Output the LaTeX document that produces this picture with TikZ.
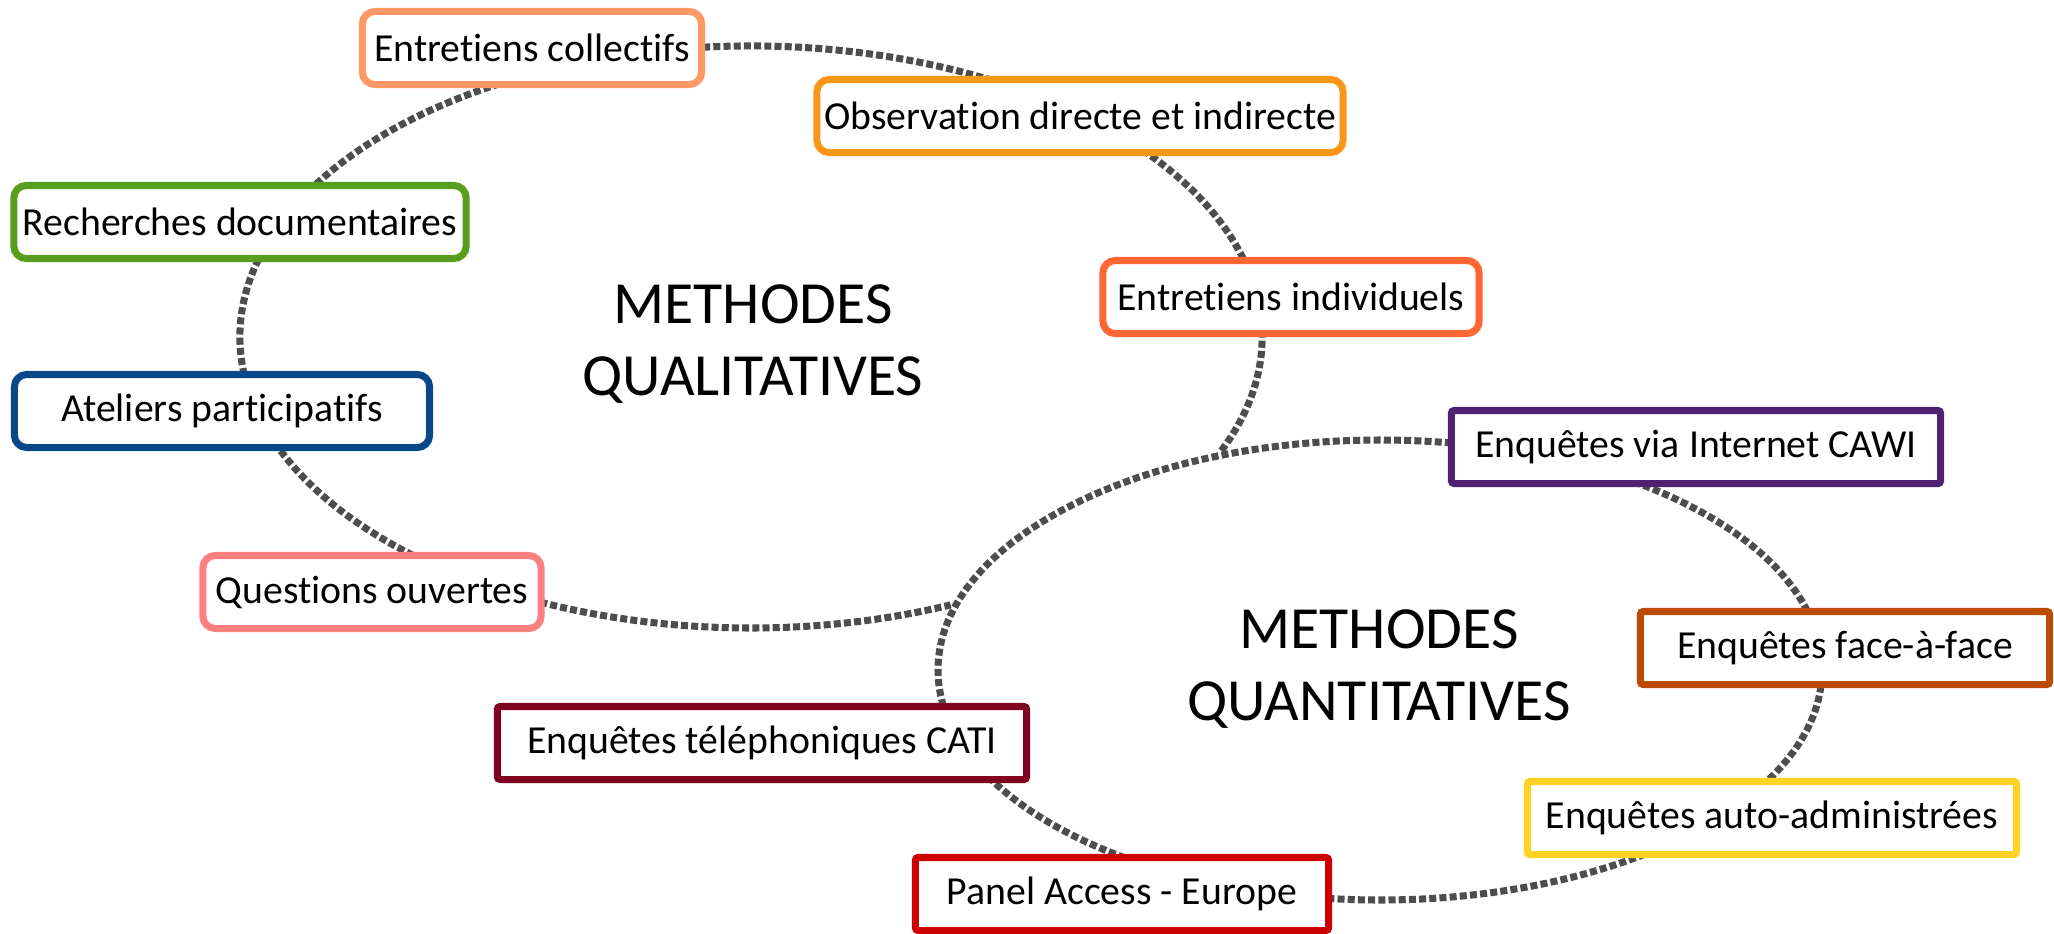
\documentclass[tikz,border=0pt]{standalone}
\usepackage{fontspec}
\setmainfont{Carlito}[Ligatures=NoCommon]
\usetikzlibrary{positioning}

\definecolor{ringgray}{RGB}{77,77,77}
\definecolor{collorange}{RGB}{255,153,102}
\definecolor{obsorange}{RGB}{250,150,25}
\definecolor{indivorange}{RGB}{255,102,51}
\definecolor{rechgreen}{RGB}{88,158,30}
\definecolor{atelblue}{RGB}{8,72,137}
\definecolor{questpink}{RGB}{255,128,128}
\definecolor{cawipurple}{RGB}{78,33,117}
\definecolor{facebrown}{RGB}{188,74,0}
\definecolor{autoyellow}{RGB}{255,210,35}
\definecolor{catired}{RGB}{128,0,32}
\definecolor{panelred}{RGB}{204,0,0}

\begin{document}
\begin{tikzpicture}[
    x=0.01cm, y=0.01cm,
    box/.style={draw=#1, fill=white, line width=2pt, minimum height=0.73cm, inner sep=2pt,
        font=\fontsize{11.3}{13.5}\selectfont},
    qualbox/.style={box=#1, rounded corners=3.5pt},
    quantbox/.style={box=#1, rounded corners=0.8pt},
    ring/.style={draw=ringgray, line width=2pt, dash pattern=on 2pt off 0.9pt},
    title/.style={align=center, font=\fontsize{17}{20.5}\selectfont},
]
    \useasboundingbox (0,0) rectangle (2054,-933);

    % Rings
    \coordinate (qualc) at (751,-337);
    \coordinate (quantc) at (1380,-670);
    \draw[ring] (qualc) ++(-23:511 and 291)
        arc[start angle=-23, end angle=293, x radius=511, y radius=291];
    \draw[ring] (quantc) ellipse[x radius=442, y radius=230];

    % Qualitative methods
    \node[qualbox=collorange, minimum width=3.39cm] (coll) at (532,-48) {Entretiens collectifs};
    \node[qualbox=obsorange, minimum width=5.26cm] (obs) at (1080,-116) {Observation directe et indirecte};
    \node[qualbox=indivorange, minimum width=3.76cm] (indiv) at (1291,-297) {Entretiens individuels};
    \node[qualbox=rechgreen, minimum width=4.52cm] (rech) at (240,-222) {Recherches documentaires};
    \node[qualbox=atelblue, minimum width=4.15cm] (atel) at (222,-411) {Ateliers participatifs};
    \node[qualbox=questpink, minimum width=3.38cm] (quest) at (372,-592) {Questions ouvertes};

    % Quantitative methods
    \node[quantbox=cawipurple, minimum width=4.89cm] (cawi) at (1696,-447) {Enquêtes via Internet CAWI};
    \node[quantbox=facebrown, minimum width=4.09cm] (face) at (1845,-648) {Enquêtes face-à-face};
    \node[quantbox=autoyellow, minimum width=4.89cm] (auto) at (1772,-818) {Enquêtes auto-administrées};
    \node[quantbox=catired, minimum width=5.29cm] (cati) at (762,-743) {Enquêtes téléphoniques CATI};
    \node[quantbox=panelred, minimum width=4.13cm] (panel) at (1122,-894) {Panel Access - Europe};

    % Titles
    \node[title] (qualt) at (753,-344) {METHODES\\QUALITATIVES};
    \node[title] (quantt) at (1379,-669) {METHODES\\QUANTITATIVES};
\end{tikzpicture}
\end{document}
